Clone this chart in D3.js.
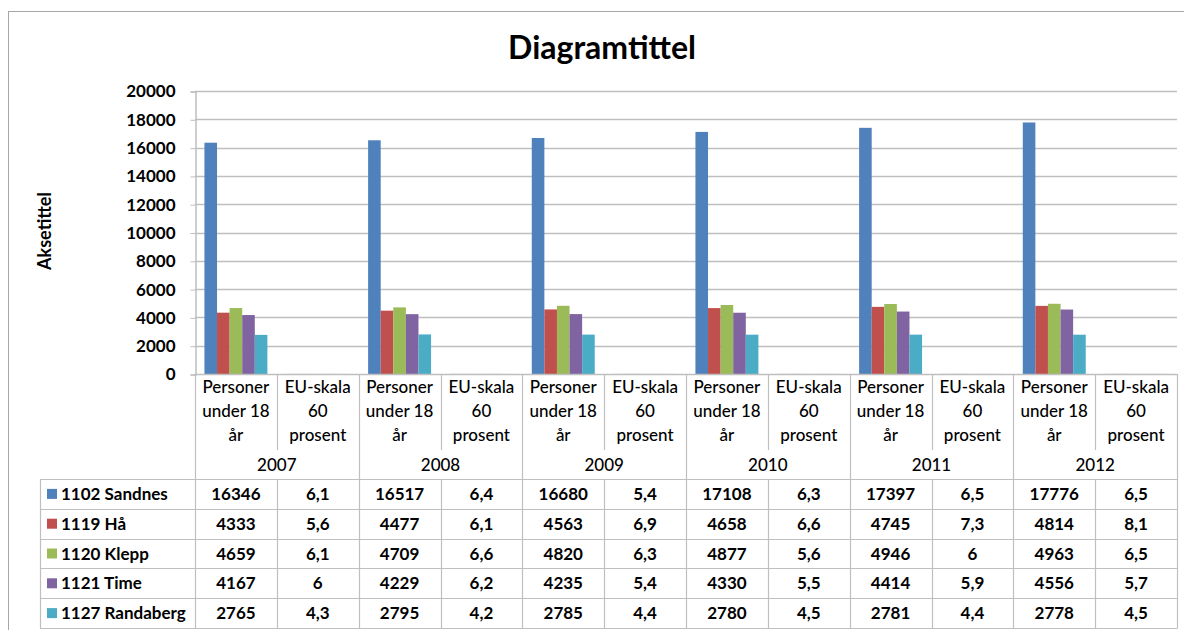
<!DOCTYPE html>
<html>
<head>
<meta charset="utf-8">
<script src="https://cdn.jsdelivr.net/npm/d3@7"></script>
<style>
  body { margin: 0; background: #fff; }
  svg { font-family: Lato, "Open Sans", sans-serif; }
</style>
</head>
<body>
<svg id="chart" width="1184" height="630"></svg>
<script>
// data
var years = ["2007", "2008", "2009", "2010", "2011", "2012"];
var measures = ["Personer under 18 år", "EU-skala 60 prosent"];
var seriesNames = ["1102 Sandnes", "1119 Hå", "1120 Klepp", "1121 Time", "1127 Randaberg"];
var colors = ["#4F81BD", "#C0504D", "#9BBB59", "#8064A2", "#4BACC6"];
var sandnes   = [16346, 6.1, 16517, 6.4, 16680, 5.4, 17108, 6.3, 17397, 6.5, 17776, 6.5];
var ha        = [4333, 5.6, 4477, 6.1, 4563, 6.9, 4658, 6.6, 4745, 7.3, 4814, 8.1];
var klepp     = [4659, 6.1, 4709, 6.6, 4820, 6.3, 4877, 5.6, 4946, 6, 4963, 6.5];
var time      = [4167, 6, 4229, 6.2, 4235, 5.4, 4330, 5.5, 4414, 5.9, 4556, 5.7];
var randaberg = [2765, 4.3, 2795, 4.2, 2785, 4.4, 2780, 4.5, 2781, 4.4, 2778, 4.5];
var yTicks = [0, 2000, 4000, 6000, 8000, 10000, 12000, 14000, 16000, 18000, 20000];

var allValues = [sandnes, ha, klepp, time, randaberg];

var svg = d3.select("#chart");
var plot = {left: 195, right: 1177, top: 91, bottom: 374};
var tableTop = 479, rowH = 29.8, legendLeft = 40;
var gridColor = "#bfbfbf";
var fs = 17;

// categories: one per year x measure
var cats = [];
years.forEach(function(y) {
  measures.forEach(function(m) { cats.push(y + "|" + m); });
});

var x0 = d3.scaleBand().domain(cats).range([plot.left, plot.right]);
var bw = x0.bandwidth();
var x1 = d3.scaleBand().domain(d3.range(seriesNames.length))
  .range([bw * 0.75 / 6.5, bw - bw * 0.75 / 6.5]);
var y = d3.scaleLinear().domain([0, 20000]).range([plot.bottom, plot.top]);

// outer chart border
svg.append("rect")
  .attr("x", 8.5).attr("y", 11.5).attr("width", 1200).attr("height", 640)
  .attr("fill", "none").attr("stroke", "#a6a6a6").attr("stroke-width", 1);

// title
svg.append("text")
  .attr("x", 602).attr("y", 59)
  .attr("text-anchor", "middle")
  .attr("font-size", 32).attr("font-weight", "bold")
  .text("Diagramtittel");

// axis title
svg.append("text")
  .attr("transform", "translate(51,231) rotate(-90)")
  .attr("text-anchor", "middle")
  .attr("font-size", 18).attr("font-weight", "bold")
  .text("Aksetittel");

// gridlines
svg.append("g").selectAll("line")
  .data(yTicks.slice(1))
  .enter().append("line")
  .attr("x1", plot.left).attr("x2", plot.right)
  .attr("y1", function(d) { return Math.round(y(d)) + 0.5; })
  .attr("y2", function(d) { return Math.round(y(d)) + 0.5; })
  .attr("stroke", gridColor).attr("stroke-width", 1.5);

// y axis
var yAxis = d3.axisLeft(y).tickValues(yTicks).tickSize(5).tickPadding(15)
  .tickFormat(function(d) { return d; });
var ga = svg.append("g")
  .attr("transform", "translate(" + (plot.left + 0.5) + ",0.5)")
  .call(yAxis);
ga.select(".domain").attr("stroke", gridColor).attr("stroke-width", 1.5);
ga.selectAll(".tick line").attr("stroke", gridColor);
ga.selectAll(".tick text")
  .attr("font-size", fs).attr("font-weight", "bold").attr("fill", "#000")
  .attr("font-family", "Lato, sans-serif");

// bars
var groups = svg.append("g").selectAll("g")
  .data(cats)
  .enter().append("g")
  .attr("transform", function(d) { return "translate(" + x0(d) + ",0)"; });

groups.selectAll("rect")
  .data(function(d, ci) {
    return allValues.map(function(vals, si) { return {s: si, v: vals[ci]}; });
  })
  .enter().append("rect")
  .attr("x", function(d) { return x1(d.s); })
  .attr("width", x1.bandwidth())
  .attr("y", function(d) { return y(d.v); })
  .attr("height", function(d) { return y(0) - y(d.v); })
  .attr("fill", function(d) { return colors[d.s]; });

// x axis line
svg.append("line")
  .attr("x1", plot.left).attr("x2", plot.right)
  .attr("y1", plot.bottom + 0.5).attr("y2", plot.bottom + 0.5)
  .attr("stroke", gridColor).attr("stroke-width", 1.5);

// header: category labels and year labels
var lines = svg.append("g").attr("stroke", gridColor).attr("stroke-width", 1.2);
var tableBottom = tableTop + rowH * seriesNames.length;

cats.forEach(function(c, i) {
  var xl = x0(c);
  var parts = c.split("|");
  var m = parts[1];
  var words = m === measures[0] ? ["Personer", "under 18", "år"] : ["EU-skala", "60", "prosent"];
  var t = svg.append("text")
    .attr("text-anchor", "middle")
    .attr("font-size", fs).attr("font-weight", 500);
  words.forEach(function(w, k) {
    t.append("tspan").attr("x", xl + bw / 2).attr("y", 393 + k * 24).text(w);
  });
  if (i % 2 === 0) {
    // year boundary, full height
    lines.append("line").attr("x1", Math.round(xl) + 0.5).attr("x2", Math.round(xl) + 0.5)
      .attr("y1", plot.bottom).attr("y2", tableBottom);
  } else {
    lines.append("line").attr("x1", Math.round(xl) + 0.5).attr("x2", Math.round(xl) + 0.5)
      .attr("y1", plot.bottom).attr("y2", 450);
    lines.append("line").attr("x1", Math.round(xl) + 0.5).attr("x2", Math.round(xl) + 0.5)
      .attr("y1", tableTop).attr("y2", tableBottom);
  }
});
lines.append("line").attr("x1", plot.right + 0.5).attr("x2", plot.right + 0.5)
  .attr("y1", plot.bottom).attr("y2", tableBottom);

years.forEach(function(yr, i) {
  var xl = x0(yr + "|" + measures[0]);
  svg.append("text")
    .attr("x", xl + bw).attr("y", 471)
    .attr("text-anchor", "middle")
    .attr("font-size", fs).attr("font-weight", 500)
    .text(yr);
});

// data table
lines.append("line").attr("x1", legendLeft + 0.5).attr("x2", legendLeft + 0.5)
  .attr("y1", tableTop).attr("y2", tableBottom);
d3.range(seriesNames.length + 1).forEach(function(r) {
  var yy = Math.round(tableTop + r * rowH) + 0.5;
  lines.append("line").attr("x1", legendLeft).attr("x2", plot.right + 0.5)
    .attr("y1", yy).attr("y2", yy);
});

seriesNames.forEach(function(name, si) {
  var cy = tableTop + si * rowH + rowH / 2;
  svg.append("rect")
    .attr("x", 47).attr("y", cy - 5).attr("width", 10).attr("height", 10)
    .attr("fill", colors[si]);
  svg.append("text")
    .attr("x", 61).attr("y", cy + 6)
    .attr("font-size", fs).attr("font-weight", "bold")
    .text(name);
  cats.forEach(function(c, ci) {
    svg.append("text")
      .attr("x", x0(c) + bw / 2).attr("y", cy + 6)
      .attr("text-anchor", "middle")
      .attr("font-size", fs).attr("font-weight", "bold")
      .text(String(allValues[si][ci]).replace(".", ","));
  });
});
</script>
</body>
</html>
